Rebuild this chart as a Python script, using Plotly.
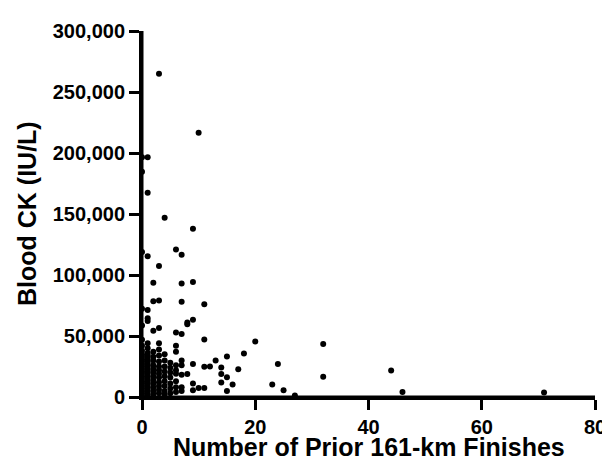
import plotly.graph_objects as go

# Number of prior 161-km finishes (x) and blood CK in IU/L (y)
finishes = [
    3, 10, 0, 1, 0, 1,
    4, 9, 0, 1, 6, 7, 3, 2, 7, 9,
    2, 3, 7, 11, 0, 1, 1, 1, 0, 2, 3, 6, 7, 8, 9,
    11, 20, 18, 15, 13, 12, 11, 9, 14, 17, 24,
    14, 15, 14, 16, 15, 23, 8, 7, 9, 9, 10, 11,
    25, 27, 32, 32, 44, 46, 71,
    0, 0, 0, 0, 0, 0, 0, 0, 0, 0, 0, 0, 0, 0, 0, 0, 0, 0, 0, 0, 0,
    1, 1, 1, 1, 1, 1, 1, 1, 1, 1, 1, 1, 1, 1, 1, 1, 1, 1, 1, 1,
    2, 2, 2, 2, 2, 2, 2, 2, 2, 2, 2, 2,
    3, 3, 3, 3, 3, 3, 3, 3, 3, 3, 3, 3,
    4, 4, 4, 4, 4, 4, 4, 4, 4,
    5, 5, 5, 5, 5, 5, 5,
    6, 6, 6, 6, 6, 6, 6, 6,
    7, 7, 8, 7, 7,
]
ck_values = [
    265000, 216500, 196600, 196600, 184600, 167400,
    147000, 138000, 118800, 115400, 121000, 116700, 107400, 93600, 93100, 94200,
    78500, 79000, 78000, 76100, 72400, 71400, 64500, 62300, 58600, 54400, 56500, 52800, 51700, 59700, 63400,
    47200, 45400, 35600, 33200, 30000, 24900, 24700, 27000, 24100, 22800, 27000,
    18900, 16200, 11900, 10300, 5000, 10300, 18900, 18300, 11100, 5600, 7400, 7400,
    5600, 1300, 43500, 16700, 21700, 4200, 3700,
    1000, 3000, 5000, 7000, 9000, 11000, 13000, 15000, 17000, 19000, 21000, 23000, 25000, 27000, 29000, 31000, 33000, 35000, 38000, 42000, 47000,
    2000, 4000, 6000, 8000, 10000, 12000, 14000, 16000, 18000, 20000, 22000, 24000, 26000, 28000, 30000, 32000, 34000, 36000, 40000, 44000,
    2000, 5000, 8000, 11000, 14000, 17000, 20000, 23000, 26000, 30000, 33000, 37000,
    3000, 6000, 9000, 12000, 16000, 19000, 22000, 25000, 29000, 34000, 39000, 44000,
    2000, 5000, 9000, 13000, 17000, 21000, 25000, 30000, 35000,
    3000, 7000, 11000, 16000, 20000, 24000, 28000,
    4000, 8000, 13000, 19000, 22000, 26000, 37000, 42000,
    5000, 8000, 61000, 30000, 26000,
]

x_range = [0, 80]
y_range = [0, 300000]
x_tick_values = [0, 20, 40, 60, 80]
x_minor_values = [0, 10, 20, 30, 40, 50, 60, 70, 80]
y_tick_values = [0, 50000, 100000, 150000, 200000, 250000, 300000]
y_minor_values = [0, 25000, 50000, 75000, 100000, 125000, 150000, 175000,
                  200000, 225000, 250000, 275000, 300000]
x_tick_labels = ["<b>%d</b>" % v for v in x_tick_values]
y_tick_labels = ["<b>{:,}</b>".format(v) for v in y_tick_values]

x_title = "<b>Number of Prior 161-km Finishes</b>"
y_title = "<b>Blood CK (IU/L)</b>"

FONT = "Liberation Sans, Arial, sans-serif"

fig = go.Figure(
    go.Scatter(
        x=finishes, y=ck_values, mode="markers",
        marker=dict(color="black", size=6),
        cliponaxis=False, showlegend=False,
    )
)

fig.update_xaxes(
    range=x_range, tickvals=x_tick_values, ticktext=x_tick_labels,
    showline=True, linecolor="black", linewidth=3,
    ticks="outside", ticklen=10, tickwidth=3, tickcolor="black",
    showgrid=False, zeroline=False,
)
fig.update_yaxes(
    range=y_range, tickvals=y_tick_values, ticktext=y_tick_labels,
    showline=True, linecolor="black", linewidth=3,
    ticks="outside", ticklen=10, tickwidth=3, tickcolor="black",
    showgrid=False, zeroline=False,
)

# Axis frame drawn as shapes so the heavy GraphPad-style lines and ticks always show
AX = dict(color="black", width=3)
shapes = [
    dict(type="line", xref="x", yref="y", x0=x_range[0], x1=x_range[1],
         y0=y_range[0], y1=y_range[0], line=AX, layer="above"),
    dict(type="line", xref="x", yref="y", x0=x_range[0], x1=x_range[0],
         y0=y_range[0], y1=y_range[1], line=AX, layer="above"),
]
for v in x_minor_values:
    shapes.append(dict(type="line", xref="x", yref="y", ysizemode="pixel", yanchor=y_range[0],
                       x0=v, x1=v, y0=0, y1=-10, line=AX, layer="above"))
for v in y_minor_values:
    shapes.append(dict(type="line", xref="x", yref="y", xsizemode="pixel", xanchor=x_range[0],
                       y0=v, y1=v, x0=0, x1=-10, line=AX, layer="above"))

fig.update_layout(
    font=dict(family=FONT, size=20, color="black"),
    width=610, height=467,
    margin=dict(l=134, r=21, t=12, b=78),
    plot_bgcolor="white",
    shapes=shapes,
    annotations=[
        dict(text=x_title, xref="paper", yref="paper", x=0.5, y=0,
             xanchor="center", yanchor="top", yshift=-34, showarrow=False,
             font=dict(family=FONT, size=25, color="black")),
        dict(text=y_title, xref="paper", yref="paper", x=0, y=0.5,
             xanchor="center", yanchor="middle", xshift=-115, textangle=-90,
             showarrow=False, font=dict(family=FONT, size=25, color="black")),
    ],
)

fig.write_html("out.html", config={"staticPlot": True, "responsive": False})
